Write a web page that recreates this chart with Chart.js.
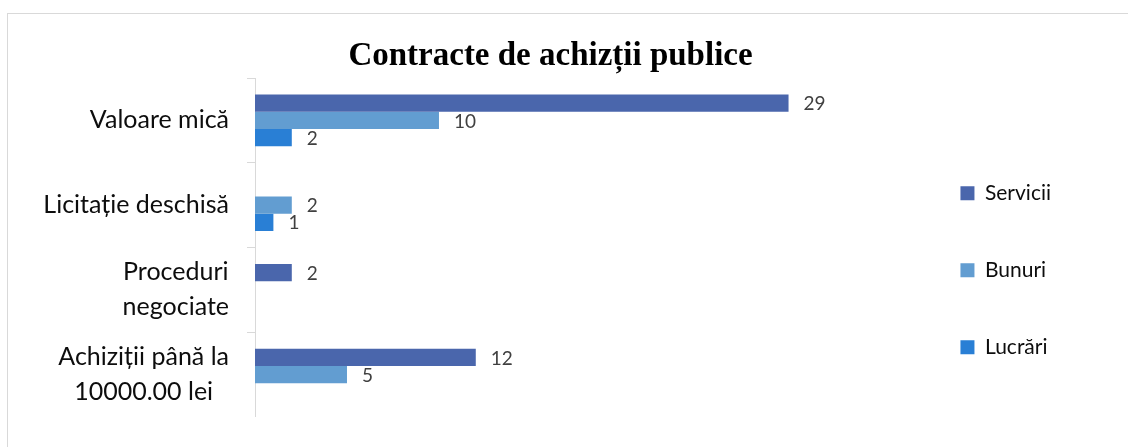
<!DOCTYPE html>
<html>
<head>
<meta charset="utf-8">
<script src="https://cdn.jsdelivr.net/npm/chart.js@4.4.0/dist/chart.umd.min.js"></script>
<style>
  html, body { margin: 0; padding: 0; background: #fff; overflow: hidden; }
  #frame { position: absolute; left: 7px; top: 13px; width: 1300px; height: 600px; border: 1px solid #d9d9d9; }
  #chart { position: absolute; left: 40px; top: 14px; }
</style>
</head>
<body>
<div id="frame"></div>
<canvas id="chart" width="1021" height="403"></canvas>
<script>
const CATEGORIES = [['Valoare mică'], ['Licitație deschisă'], ['Proceduri', 'negociate'], ['Achiziții până la', '10000.00 lei']];
const SERIES_NAMES = ['Servicii', 'Bunuri', 'Lucrări'];
const SERVICII = [29, null, 2, 12];
const BUNURI = [10, 2, null, 5];
const LUCRARI = [2, 1, null, null];
const COLORS = ['#4a66ac', '#629dd1', '#297fd5'];

const valueLabels = {
    id: 'valueLabels',
    afterDatasetsDraw(chart) {
        const ctx = chart.ctx;
        ctx.save();
        ctx.font = '19px Lato';
        ctx.fillStyle = '#404040';
        ctx.textBaseline = 'middle';
        ctx.textAlign = 'left';
        chart.data.datasets.forEach((ds, i) => {
            chart.getDatasetMeta(i).data.forEach((bar, j) => {
                const v = ds.data[j];
                if (v === null || v === undefined) return;
                ctx.fillText(String(v), bar.x + 15, bar.y + 1);
            });
        });
        ctx.restore();
    }
};

// category names: block right-aligned next to the axis, lines centred inside the block
const categoryLabels = {
    id: 'categoryLabels',
    afterDraw(chart) {
        const ctx = chart.ctx;
        const yScale = chart.scales.y;
        const right = chart.chartArea.left - 26;
        ctx.save();
        ctx.font = '25px Lato';
        ctx.fillStyle = '#0d0d0d';
        ctx.textAlign = 'center';
        ctx.textBaseline = 'middle';
        chart.data.labels.forEach((lines, i) => {
            const w = Math.max(...lines.map(l => ctx.measureText(l).width));
            const cx = right - w / 2;
            const yc = yScale.getPixelForValue(i);
            lines.forEach((l, k) => {
                ctx.fillText(l, cx, yc + (k - (lines.length - 1) / 2) * 35);
            });
        });
        ctx.restore();
    }
};

const ctx = document.getElementById('chart').getContext('2d');
new Chart(ctx, {
    type: 'bar',
    data: {
        labels: CATEGORIES,
        datasets: [
            { label: SERIES_NAMES[0], data: SERVICII, backgroundColor: COLORS[0] },
            { label: SERIES_NAMES[1], data: BUNURI, backgroundColor: COLORS[1] },
            { label: SERIES_NAMES[2], data: LUCRARI, backgroundColor: COLORS[2] }
        ]
    },
    options: {
        indexAxis: 'y',
        responsive: false,
        animation: false,
        devicePixelRatio: 1,
        datasets: {
            bar: { categoryPercentage: 0.61, barPercentage: 1, borderWidth: 0 }
        },
        layout: { padding: 0 },
        scales: {
            x: { display: false, min: 0, max: 35.3 },
            y: {
                grid: { offset: true, drawOnChartArea: false, drawTicks: true, tickLength: 8, color: '#d9d9d9' },
                border: { display: true, color: '#d9d9d9' },
                ticks: { display: false },
                afterFit: scale => { scale.width = 215; }
            }
        },
        plugins: {
            title: {
                display: true,
                text: 'Contracte de achizții publice',
                color: '#000',
                font: { family: 'Liberation Serif', size: 33, weight: 'bold' },
                padding: { top: 23, bottom: 1.4 }
            },
            legend: {
                position: 'right',
                title: { display: true, text: ' ', font: { size: 2 }, padding: { top: 107, bottom: 0 } },
                labels: {
                    boxWidth: 14,
                    boxHeight: 14,
                    padding: 56,
                    color: '#0d0d0d',
                    font: { family: 'Lato', size: 21 }
                }
            },
            tooltip: { enabled: false }
        }
    },
    plugins: [valueLabels, categoryLabels]
});
</script>
</body>
</html>
